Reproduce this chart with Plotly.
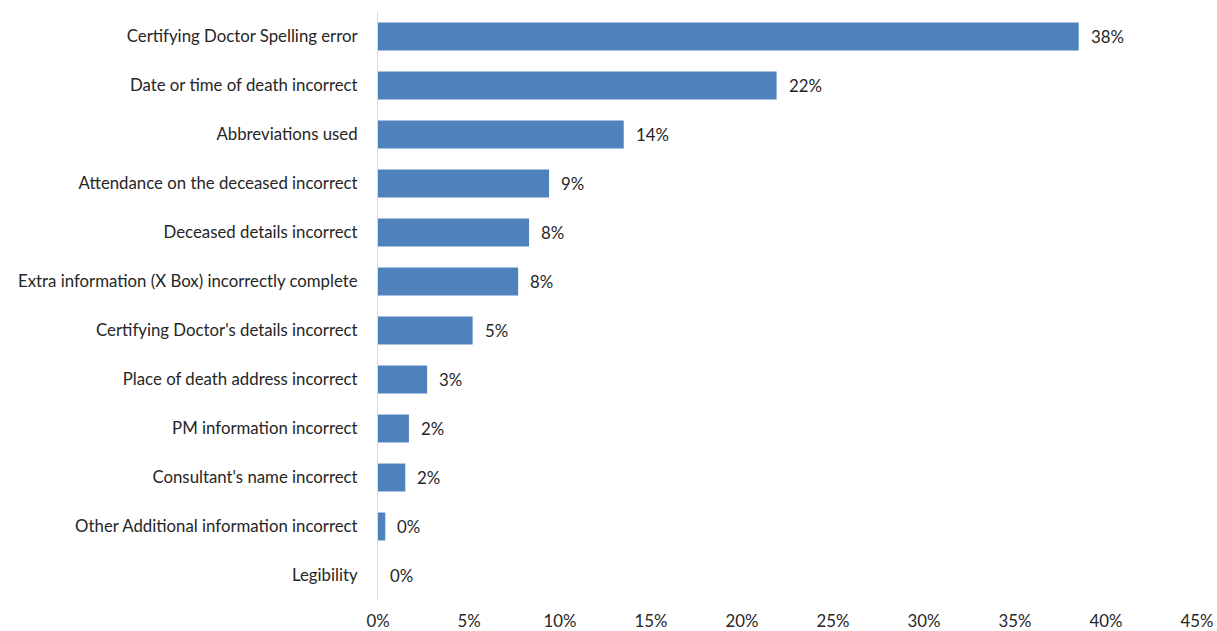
import plotly.graph_objects as go

categories = [
    "Certifying Doctor Spelling error",
    "Date or time of death incorrect",
    "Abbreviations used",
    "Attendance on the deceased incorrect",
    "Deceased details incorrect",
    "Extra information (X Box) incorrectly complete",
    "Certifying Doctor's details incorrect",
    "Place of death address incorrect",
    "PM information incorrect",
    "Consultant's name incorrect",
    "Other Additional information incorrect",
    "Legibility",
]
values = [0.385, 0.219, 0.135, 0.094, 0.083, 0.077, 0.052, 0.027, 0.017, 0.015, 0.004, 0.0]
labels = ["38%", "22%", "14%", "9%", "8%", "8%", "5%", "3%", "2%", "2%", "0%", "0%"]
tick_vals = [0, 0.05, 0.10, 0.15, 0.20, 0.25, 0.30, 0.35, 0.40, 0.45]
tick_text = ["0%", "5%", "10%", "15%", "20%", "25%", "30%", "35%", "40%", "45%"]

FONT = "Lato"
TXT = "#262626"
FS = 16.8

fig = go.Figure()
fig.add_trace(go.Bar(
    x=values, y=categories, orientation="h",
    marker=dict(color="#4F81BD", line=dict(width=0)),
    width=0.57, hoverinfo="skip",
))

for v, c, t in zip(values, categories, labels):
    fig.add_annotation(x=v, y=c, text=t, showarrow=False, xanchor="left",
                       xshift=10, font=dict(family=FONT, size=FS, color=TXT))

fig.update_layout(
    width=1217, height=631,
    margin=dict(l=378, r=20, t=12, b=31),
    plot_bgcolor="white", paper_bgcolor="white",
    showlegend=False,
    font=dict(family=FONT, size=FS, color=TXT),
    xaxis=dict(range=[0, 0.45], tickvals=tick_vals, ticktext=tick_text,
               showgrid=False, zeroline=False, showline=False,
               ticks="", ticklabelstandoff=9, automargin=False, fixedrange=True),
    yaxis=dict(autorange="reversed", showgrid=False, zeroline=False,
               showline=True, linecolor="#D9D9D9", linewidth=1,
               ticks="", ticklabelstandoff=16, automargin=False),
)

fig.write_html("out.html")
